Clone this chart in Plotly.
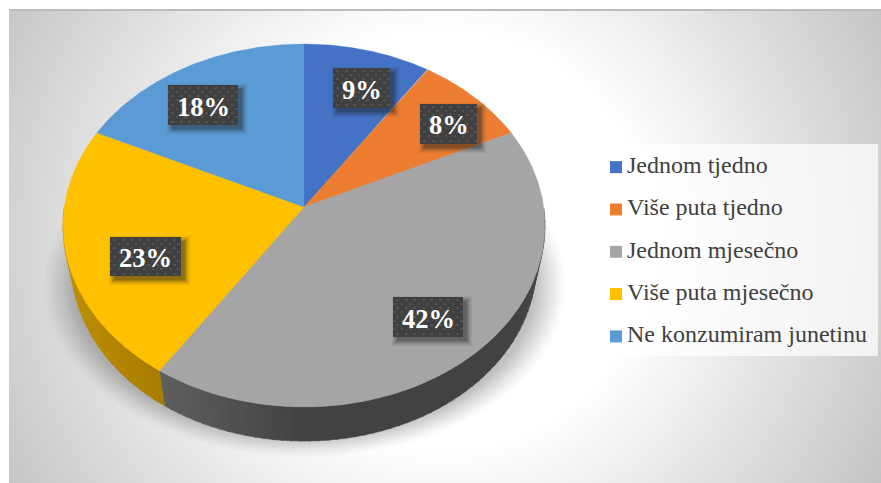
import base64, struct, zlib
import numpy as np
import plotly.graph_objects as go

W, H = 881, 483

# ---- data ----
categories = ["Jednom tjedno", "Više puta tjedno", "Jednom mjesečno", "Više puta mjesečno", "Ne konzumiram junetinu"]
shares = [9.4, 8.5, 41.4, 22.8, 17.9]
percent_labels = ["9%", "8%", "42%", "23%", "18%"]
colors = ["#4472C4", "#ED7D31", "#A5A5A5", "#FFC000", "#5B9BD5"]
wall_colors = [None, None, ((0x42, 0x42, 0x42), (0x60, 0x60, 0x60)), ((0xA8, 0x7C, 0x00), (0xBE, 0x8F, 0x00)), None]

# ---- layout constants (pixels) ----
APEX_X, APEX_Y = 304, 207
SX, SY = 239.7, 179.6
PERSP = 0.102
LABEL_BOXES = [(333, 68, 57, 40), (420, 104, 57, 40), (393, 297, 70, 40), (110, 237, 71, 39), (168, 85, 70, 40)]


def png_uri(rgba):
    h, w, _ = rgba.shape
    raw = b"".join(b"\x00" + rgba[i].tobytes() for i in range(h))
    def chunk(t, d):
        c = struct.pack(">I", len(d)) + t + d
        return c + struct.pack(">I", zlib.crc32(t + d) & 0xffffffff)
    data = b"\x89PNG\r\n\x1a\n" + chunk(b"IHDR", struct.pack(">IIBBBBB", w, h, 8, 6, 0, 0, 0)) \
        + chunk(b"IDAT", zlib.compress(raw, 9)) + chunk(b"IEND", b"")
    return "data:image/png;base64," + base64.b64encode(data).decode()


def background():
    yy, xx = np.mgrid[0:H, 0:W].astype(float)
    d = np.hypot(xx - 440, yy - 240)
    g = 255 - 0.2 * np.clip(d - 210, 0, None)
    r = np.sqrt(((xx - 304) / 262) ** 2 + ((yy - 285) / 172) ** 2)
    a = 0.32 * np.clip((1 - r) / 0.12, 0, 1) ** 1.2
    a[yy > 455] = 0
    g = g * (1 - a) + 60 * a
    g[:9, :] = 255
    g[:, :9] = 255
    g[9:11, 9:] = 188
    img = np.zeros((H, W, 4), dtype=np.uint8)
    img[..., :3] = np.clip(g, 0, 255)[..., None].astype(np.uint8)
    img[..., 3] = 255
    return png_uri(img)


def label_plate(w, h, pad=14):
    tw, th = w + 2 * pad, h + 2 * pad
    yy, xx = np.mgrid[0:th, 0:tw].astype(float)
    ox, oy = 4, 4
    dx = np.maximum(pad + ox - xx, xx - (pad + ox + w - 1))
    dy = np.maximum(pad + oy - yy, yy - (pad + oy + h - 1))
    dist = np.maximum(np.maximum(dx, dy), 0)
    alpha = 0.5 * np.clip(1 - dist / 7, 0, 1) ** 1.6
    rgb = np.zeros((th, tw, 3))
    rgb[...] = 30
    inside = (xx >= pad) & (xx < pad + w) & (yy >= pad) & (yy < pad + h)
    rgb[inside] = 0x40
    alpha[inside] = 1
    px_, py_ = xx - pad, yy - pad
    row = np.floor(py_ / 4.25)
    col = (px_ + (row % 2) * 4.25) % 8.5
    rp = py_ % 4.25
    dots = inside & (np.abs(col - 4.2) < 1.3) & (np.abs(rp - 2.1) < 1.1)
    rgb[dots] = 0x52
    img = np.dstack([rgb, alpha * 255]).astype(np.uint8)
    return png_uri(img), pad


def rim(theta):
    u, v = np.sin(theta), np.cos(theta)
    w = 1 + PERSP * v
    return u / w, v / w


def lower_rim(x, y):
    # base of the disc: slightly narrower ellipse centred lower on the page
    y_px = APEX_Y - y * SY
    y_low = (y_px - 225.5) * 0.97 + 265
    return x * 0.963, (APEX_Y - y_low) / SY


def px(x):
    return x / W


def py(y):
    return 1 - y / H


fig = go.Figure()

# side wall, strip by strip
edges = np.radians(np.cumsum([0] + shares) * 3.6)
for i, cat in enumerate(categories):
    if wall_colors[i] is None:
        continue
    lo, hi = max(edges[i], np.pi / 2), min(edges[i + 1], 1.5 * np.pi)
    bands = 60
    for b in range(bands):
        t0 = lo + (hi - lo) * b / bands
        t1 = lo + (hi - lo) * min(b + 1.2, bands) / bands
        th = np.linspace(t0, t1, 6)
        rx, ry = rim(th)
        lx, ly = lower_rim(rx, ry)
        xs = np.r_[rx, lx[::-1]]
        ys = np.r_[ry, ly[::-1]]
        if i == 2:
            f = np.clip((rx.mean() + 0.62) / 0.62, 0, 1)
        else:
            f = np.clip((rx.mean() + 1) / 0.4, 0, 1)
        c0, c1 = wall_colors[i][1], wall_colors[i][0]
        col = "rgb(%d,%d,%d)" % tuple(int(c0[k] + (c1[k] - c0[k]) * f) for k in range(3))
        fig.add_trace(go.Scatter(x=xs, y=ys, mode="lines", fill="toself", line=dict(width=0.6, color=col),
                                 fillcolor=col, hoverinfo="skip", showlegend=False))

# top face
for i, cat in enumerate(categories):
    th = np.linspace(edges[i], edges[i + 1], 160)
    rx, ry = rim(th)
    fig.add_trace(go.Scatter(x=np.r_[0, rx, 0], y=np.r_[0, ry, 0], mode="lines", fill="toself", name=cat,
                             line=dict(width=0.4, color=colors[i]), fillcolor=colors[i],
                             hoverinfo="name", showlegend=False))

# legend as a small categorical scatter
fig.add_trace(go.Scatter(x=[0] * 5, y=categories, mode="markers", xaxis="x2", yaxis="y2",
                         marker=dict(symbol="square", size=12, color=colors, line=dict(width=0)),
                         hoverinfo="skip", showlegend=False, cliponaxis=False))
fig.add_trace(go.Scatter(x=[11 / (W - 616)] * 5, y=categories, mode="text", xaxis="x2", yaxis="y2", text=categories,
                         textposition="middle right", textfont=dict(family="Liberation Serif", size=24, color="#404040"),
                         hoverinfo="skip", showlegend=False, cliponaxis=False))

images = [dict(source=background(), xref="paper", yref="paper", x=0, y=1, sizex=1, sizey=1,
               xanchor="left", yanchor="top", sizing="stretch", layer="below")]
annotations = []
for (bx, by, bw, bh), txt in zip(LABEL_BOXES, percent_labels):
    src, pad = label_plate(bw, bh)
    images.append(dict(source=src, xref="paper", yref="paper", x=px(bx - pad), y=py(by - pad),
                       sizex=(bw + 2 * pad) / W, sizey=(bh + 2 * pad) / H,
                       xanchor="left", yanchor="top", sizing="stretch", layer="above"))
    annotations.append(dict(text="<b>%s</b>" % txt, xref="paper", yref="paper", x=px(bx + bw / 2), y=py(by + bh / 2 + 1.5),
                            showarrow=False, xanchor="center", yanchor="middle",
                            font=dict(family="Liberation Serif", size=26.5, color="white")))

fig.update_layout(
    width=W, height=H, autosize=False,
    margin=dict(l=0, r=0, t=0, b=0, pad=0),
    paper_bgcolor="white", plot_bgcolor="rgba(0,0,0,0)",
    showlegend=False,
    xaxis=dict(visible=False, range=[-APEX_X / SX, (W - APEX_X) / SX], domain=[0, 1], fixedrange=True),
    yaxis=dict(visible=False, range=[(APEX_Y - H) / SY, APEX_Y / SY], domain=[0, 1], fixedrange=True),
    xaxis2=dict(visible=False, range=[0, 1], domain=[616 / W, 1], anchor="y2", fixedrange=True),
    yaxis2=dict(visible=False, type="category", categoryorder="array", categoryarray=categories,
                range=[4.5, -0.5], domain=[1 - 357.5 / H, 1 - 146 / H], anchor="x2", fixedrange=True),
    images=images,
    annotations=annotations,
    shapes=[dict(type="rect", xref="paper", yref="paper", x0=px(598), x1=px(878), y0=py(356), y1=py(144),
                 fillcolor="rgba(255,255,255,0.72)", line=dict(width=0), layer="below")],
)

fig.write_html("out.html", config=dict(displayModeBar=False),
               post_script="document.body.style.margin='0';document.documentElement.style.overflow='hidden';")
